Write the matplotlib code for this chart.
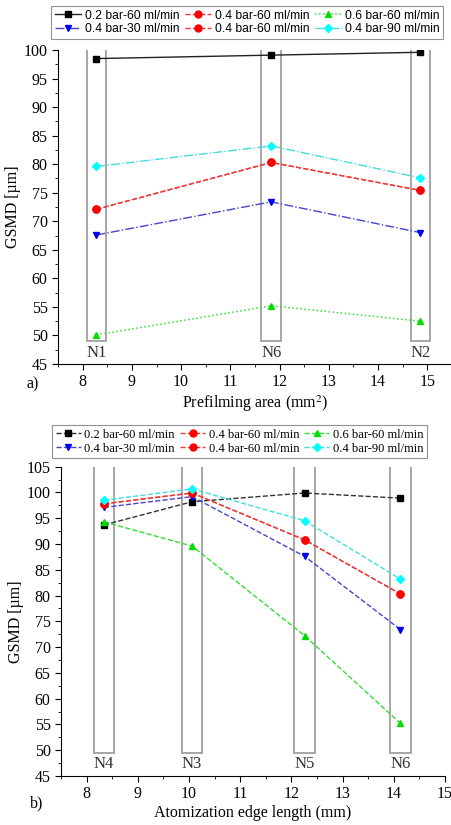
import matplotlib
matplotlib.use("Agg")
import matplotlib.pyplot as plt
from matplotlib.patches import Rectangle
from matplotlib.ticker import MultipleLocator

# ---- data: panel a) prefilming area ----
area_nozzles = ["N1", "N6", "N2"]
area_x = [8.28, 11.83, 14.86]
area_02_60 = [98.5, 99.1, 99.6]
area_04_60 = [72.1, 80.3, 75.4]
area_06_60 = [50.1, 55.2, 52.5]
area_04_30 = [67.6, 73.4, 68.0]
area_04_90 = [79.6, 83.2, 77.6]

# ---- data: panel b) atomization edge length ----
edge_nozzles = ["N4", "N3", "N5", "N6"]
edge_x = [8.34, 10.06, 12.26, 14.13]
edge_02_60 = [93.7, 98.2, 99.9, 98.9]
edge_04_60 = [97.8, 99.9, 90.8, 80.3]
edge_06_60 = [94.3, 89.6, 72.2, 55.2]
edge_04_30 = [97.1, 99.2, 87.6, 73.4]
edge_04_90 = [98.5, 100.7, 94.5, 83.2]

labels = ["0.2 bar-60 ml/min", "0.4 bar-30 ml/min", "0.4 bar-60 ml/min",
          "0.4 bar-60 ml/min", "0.6 bar-60 ml/min", "0.4 bar-90 ml/min"]

SERIF = "Liberation Serif"
SANS = "Liberation Sans"
plt.rcParams["font.family"] = SERIF
plt.rcParams["mathtext.fontset"] = "stix"

fig = plt.figure(figsize=(4.52, 8.25), dpi=100)
ax1 = fig.add_axes([58/452, 1-364/825, 394/452, 314/825])
ax2 = fig.add_axes([61/452, 1-776/825, 384/452, 309.3/825])


def style_axes(ax, xlim, ylim):
    ax.set_xlim(*xlim)
    ax.set_ylim(*ylim)
    for s in ["top", "right"]:
        ax.spines[s].set_visible(False)
    ax.xaxis.set_major_locator(MultipleLocator(1))
    ax.xaxis.set_minor_locator(MultipleLocator(0.5))
    ax.yaxis.set_major_locator(MultipleLocator(5))
    ax.yaxis.set_minor_locator(MultipleLocator(2.5))
    ax.tick_params(which="major", direction="out", length=4, labelsize=11.5)
    ax.tick_params(which="minor", direction="out", length=2.5)
    ax.set_ylabel("GSMD [µm]", fontsize=11.5, labelpad=2)


def draw_boxes(ax, xs, names, ybot, ytop):
    for x, n in zip(xs, names):
        ax.add_patch(Rectangle((x - 0.2, ybot), 0.4, ytop - ybot, fill=False,
                               edgecolor="#909090", lw=1.1, zorder=1))
        ax.text(x, ybot - 0.6, n, ha="center", va="top", fontsize=12,
                color="#333333")


def series(ax, x, y, ls, line_c, mark_c, marker, ms, lw=1.0):
    return ax.plot(x, y, ls, color=line_c, marker=marker, ms=ms,
                   mfc=mark_c, mec=mark_c, lw=lw)[0]


# panel a
l1 = [
    series(ax1, area_x, area_02_60, "-", "#222222", "black", "s", 4.3),
    series(ax1, area_x, area_04_30, "-.", "#4545d0", "#0000ee", "v", 5),
    series(ax1, area_x, area_04_60, "--", "#ee3b3b", "red", "o", 5),
    series(ax1, area_x, area_04_60, "--", "#ee3b3b", "red", "o", 5),
    series(ax1, area_x, area_06_60, ":", "#33dd33", "#00dd00", "^", 5, 1.1),
    series(ax1, area_x, area_04_90, "-.", "#44dddd", "cyan", "D", 4.3),
]
style_axes(ax1, (7.5, 15.5), (45, 100))
draw_boxes(ax1, area_x, area_nozzles, 49.0, 100.6)
ax1.set_xlabel("Prefilming area (mm$^2$)", fontsize=11.5, labelpad=2)

leg1 = fig.legend(l1, labels, ncol=3, loc="upper left",
                  bbox_to_anchor=(51/452, 1-6/825), frameon=True,
                  prop={"family": SANS, "size": 8.7}, handlelength=2.2,
                  handletextpad=0.3, columnspacing=0.45, labelspacing=0.15,
                  borderpad=0.3, borderaxespad=0, fancybox=False)
leg1.get_frame().set_edgecolor("#777777")
leg1.get_frame().set_linewidth(0.8)
fig.text(27/452, 1-384/825, "a)", fontsize=11.5, va="center")

# panel b
l2 = [
    series(ax2, edge_x, edge_02_60, "--", "#333333", "black", "s", 4.3),
    series(ax2, edge_x, edge_04_30, "--", "#4545d0", "#0000ee", "v", 5),
    series(ax2, edge_x, edge_04_60, "--", "#ee3b3b", "red", "o", 5),
    series(ax2, edge_x, edge_04_60, "--", "#ee3b3b", "red", "o", 5),
    series(ax2, edge_x, edge_06_60, "--", "#33dd33", "#00dd00", "^", 5),
    series(ax2, edge_x, edge_04_90, "--", "#44dddd", "cyan", "D", 4.3),
]
style_axes(ax2, (7.5, 15.0), (45, 105))
draw_boxes(ax2, edge_x, edge_nozzles, 49.4, 105.1)
ax2.set_xlabel("Atomization edge length (mm)", fontsize=11.5, labelpad=2)

leg2 = fig.legend(l2, labels, ncol=3, loc="upper left",
                  bbox_to_anchor=(52/452, 1-425/825), frameon=True,
                  prop={"family": SERIF, "size": 9}, handlelength=2.0,
                  handletextpad=0.3, columnspacing=0.4, labelspacing=0.15,
                  borderpad=0.3, borderaxespad=0, fancybox=False)
leg2.get_frame().set_edgecolor("#777777")
leg2.get_frame().set_linewidth(0.8)
fig.text(30/452, 1-803/825, "b)", fontsize=11.5, va="center")

fig.savefig("out.png", dpi=100)
